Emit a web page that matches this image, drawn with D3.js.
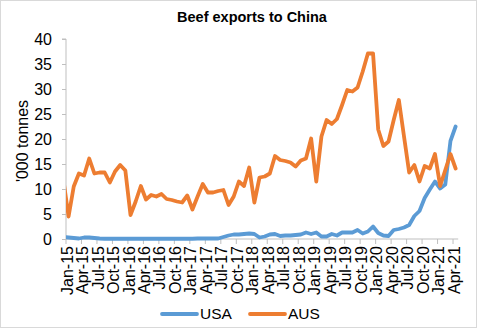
<!DOCTYPE html>
<html><head><meta charset="utf-8">
<script src="https://cdn.jsdelivr.net/npm/d3@7"></script>
<style>body{margin:0;background:#fff}svg{display:block;font-family:"Liberation Sans",Arial,sans-serif}</style>
</head><body><svg id="c" width="477" height="328"></svg>
<script>
// Monthly categories Dec-14 .. Apr-21 (Dec-14 lies just left of the axis and is clipped)
const months = d3.timeMonth.range(new Date(2014, 11, 1), new Date(2021, 4, 1)).map(d3.timeFormat("%b-%y"));
const tickLabels = ["Jan-15","Apr-15","Jul-15","Oct-15","Jan-16","Apr-16","Jul-16","Oct-16","Jan-17","Apr-17","Jul-17","Oct-17","Jan-18","Apr-18","Jul-18","Oct-18","Jan-19","Apr-19","Jul-19","Oct-19","Jan-20","Apr-20","Jul-20","Oct-20","Jan-21","Apr-21"];
const yTicks = [0,5,10,15,20,25,30,35,40];
const seriesNames = ["USA","AUS"];
const usa = [0.4,
  0.3,0.2,0.1,0.3,0.3,0.2,0.1,0.05,
  0.05,0.05,0.05,0.05,0.05,0.05,0.05,0.05,0.05,0.05,0.05,0.05,0.05,0.05,0.05,0.05,0.05,0.1,0.1,0.1,0.1,
  0.1,0.4,0.7,0.9,0.9,1.0,1.1,1.0,0.3,0.5,0.9,1.0,0.6,0.7,0.7,0.8,0.9,1.3,1.0,1.3,
  0.5,0.5,1.0,0.7,1.3,1.3,1.3,1.8,1.1,1.5,2.5,1.2,0.7,0.6,1.8,2.0,2.3,2.8,4.6,5.6,
  8.2,9.9,11.5,10.1,10.9,19.6,22.5];
const aus = [11.8,
  4.5,10.5,13.1,12.7,16.1,13.1,13.3,13.3,11.3,13.5,14.8,13.7,4.8,7.5,10.6,7.9,8.8,8.5,
  9.0,8.0,7.8,7.5,7.3,8.7,5.9,8.5,11.0,9.3,9.3,9.6,9.8,6.8,8.5,11.5,10.6,14.3,7.3,12.3,
  12.5,13.1,16.6,15.8,15.6,15.3,14.5,15.7,16.1,20.1,
  11.5,20.5,23.8,23.0,24.0,26.8,29.8,29.5,30.3,33.5,37.1,37.1,21.9,18.6,19.5,23.8,27.8,20.5,
  13.3,14.8,11.5,14.6,14.1,17.0,10.6,13.8,17.0,14.1];
const colors = ["#5B9BD5","#ED7D31"];

const svg = d3.select("#c");
const W = 477, H = 328;
const pLeft = 66, pRight = 458.2, pTop = 39, pBottom = 239;

svg.append("rect").attr("x",0.5).attr("y",0.5).attr("width",W-1).attr("height",H-1)
  .attr("fill","#fff").attr("stroke","#d9d9d9");

// index k = array index - 1 (Jan-15 = 0)
const x = d3.scaleLinear().domain([-0.5, 75.5]).range([pLeft, pRight]);
const y = d3.scaleLinear().domain([0, 40]).range([pBottom, pTop]);

// Title
svg.append("text").attr("x",252).attr("y",22).attr("text-anchor","middle")
  .attr("font-size","14.5px").attr("font-weight","bold").attr("fill","#000").text("Beef exports to China");

// Y axis
const yAxis = d3.axisLeft(y).tickValues(yTicks).tickSize(4).tickPadding(10).tickFormat(d3.format("d"));
const gy = svg.append("g").attr("transform",`translate(${pLeft},0)`).call(yAxis);
gy.select(".domain").attr("stroke","#bfbfbf").attr("d",`M-4,${pTop}H0V${pBottom}`);
gy.selectAll(".tick line").attr("stroke","#bfbfbf");
gy.selectAll(".tick text").attr("font-size","16px").attr("fill","#000").attr("font-family","Liberation Sans, Arial, sans-serif");

svg.append("text").attr("transform",`translate(22,${(pTop+pBottom)/2 + 2}) rotate(-90)`)
  .attr("text-anchor","middle").attr("dy","0.35em").attr("font-size","16px").attr("fill","#000").text("'000 tonnes");

// X axis
const tickPos = tickLabels.map((d,j) => -0.5 + 3*j);
const gx = svg.append("g").attr("transform",`translate(0,${pBottom})`);
gx.append("line").attr("x1",pLeft).attr("x2",pRight).attr("stroke","#bfbfbf");
gx.selectAll("line.t").data(tickPos).join("line").attr("class","t")
  .attr("x1",d=>x(d)).attr("x2",d=>x(d)).attr("y1",0).attr("y2",5).attr("stroke","#bfbfbf");
gx.selectAll("text").data(tickLabels).join("text")
  .attr("transform",(d,j)=>`translate(${x(tickPos[j])+1},7) rotate(-90)`)
  .attr("text-anchor","end").attr("dy","0.35em").attr("font-size","16px").attr("fill","#000").text(d=>d);

// Lines
svg.append("clipPath").attr("id","clip").append("rect")
  .attr("x",pLeft).attr("y",0).attr("width",pRight-pLeft+4).attr("height",H);
const line = d3.line().x((d,i)=>x(i-1)).y(d=>y(d));
const g = svg.append("g").attr("clip-path","url(#clip)");
[usa, aus].forEach((s,k)=>{
  g.append("path").datum(s).attr("d",line).attr("fill","none")
    .attr("stroke",colors[k]).attr("stroke-width",3.8).attr("stroke-linejoin","round").attr("stroke-linecap","round");
});

// Legend
const lg = svg.append("g");
const legX = [162, 250];
seriesNames.forEach((n,k)=>{
  lg.append("line").attr("x1",legX[k]).attr("x2",legX[k]+35).attr("y1",314).attr("y2",314)
    .attr("stroke",colors[k]).attr("stroke-width",3.8).attr("stroke-linecap","round");
  lg.append("text").attr("x",legX[k]+38).attr("y",314).attr("dy","0.35em")
    .attr("font-size","15.5px").attr("fill","#000").text(n);
});
</script></body></html>
